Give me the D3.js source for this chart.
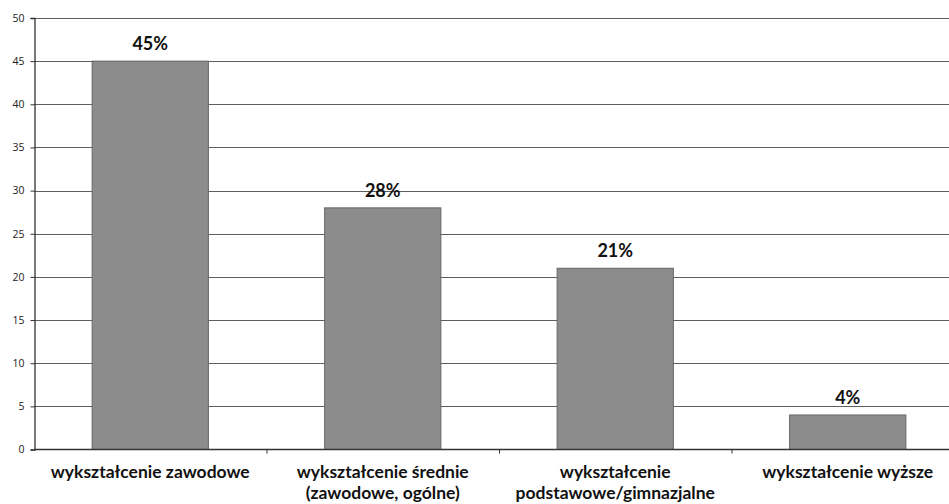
<!DOCTYPE html>
<html>
<head>
<meta charset="utf-8">
<script src="https://cdn.jsdelivr.net/npm/d3@7.9.0/dist/d3.min.js"></script>
<style>
  html, body { margin: 0; padding: 0; background: #fff; }
  svg { display: block; }
</style>
</head>
<body>
<div id="chart"></div>
<script>
// chart values
const categories = [
  ['wykształcenie zawodowe'],
  ['wykształcenie średnie', '(zawodowe, ogólne)'],
  ['wykształcenie', 'podstawowe/gimnazjalne'],
  ['wykształcenie wyższe']
];
const values = [45, 28, 21, 4];
const valueLabels = ['45%', '28%', '21%', '4%'];
const yTicks = [0, 5, 10, 15, 20, 25, 30, 35, 40, 45, 50];

const width = 949;
const height = 504;
const margin = { top: 18, right: -15, bottom: 55, left: 34 };

const svg = d3.select('#chart')
  .append('svg')
  .attr('width', width)
  .attr('height', height);

const x = d3.scaleBand()
  .domain(d3.range(categories.length))
  .range([margin.left, width - margin.right])
  .paddingInner(0.5)
  .paddingOuter(0.25);

const y = d3.scaleLinear()
  .domain([0, 50])
  .range([height - margin.bottom + 0.5, margin.top]);

// gridlines
svg.append('g')
  .selectAll('line')
  .data(yTicks.filter(d => d > 0))
  .join('line')
    .attr('x1', margin.left)
    .attr('x2', width)
    .attr('y1', d => Math.round(y(d)) + 0.5)
    .attr('y2', d => Math.round(y(d)) + 0.5)
    .attr('stroke', '#5e5e5e')
    .attr('stroke-width', 1.2);

// bars
svg.append('g')
  .selectAll('rect')
  .data(values)
  .join('rect')
    .attr('x', (d, i) => x(i))
    .attr('y', d => y(d))
    .attr('width', x.bandwidth())
    .attr('height', d => y(0) - y(d))
    .attr('fill', '#8c8c8c')
    .attr('stroke', '#666')
    .attr('stroke-width', 1);

// value labels
svg.append('g')
  .selectAll('text')
  .data(values)
  .join('text')
    .attr('x', (d, i) => x(i) + x.bandwidth() / 2)
    .attr('y', d => y(d) - 11)
    .attr('text-anchor', 'middle')
    .attr('font-family', 'Lato, "Open Sans", sans-serif')
    .attr('font-weight', 'bold')
    .attr('font-size', 18)
    .attr('fill', '#111')
    .text((d, i) => valueLabels[i]);

// y axis
const yAxis = svg.append('g')
  .attr('transform', `translate(${margin.left + 0.5},0)`)
  .call(d3.axisLeft(y).tickValues(yTicks).tickSize(4).tickPadding(6));
yAxis.select('.domain').attr('stroke', '#333').attr('stroke-width', 1.3);
yAxis.selectAll('.tick line').attr('stroke', '#333');
yAxis.selectAll('.tick text')
  .attr('font-family', '"Open Sans", sans-serif')
  .attr('font-size', 10.5)
  .attr('fill', '#222');

// x axis line with category boundary ticks
const x0 = y(0);
svg.append('line')
  .attr('x1', margin.left)
  .attr('x2', width)
  .attr('y1', x0)
  .attr('y2', x0)
  .attr('stroke', '#333')
  .attr('stroke-width', 1.3);

const step = x.step();
svg.append('g')
  .selectAll('line')
  .data(d3.range(1, categories.length))
  .join('line')
    .attr('x1', i => x(i) - step * 0.25 + 0.5)
    .attr('x2', i => x(i) - step * 0.25 + 0.5)
    .attr('y1', x0)
    .attr('y2', x0 + 4)
    .attr('stroke', '#333');

// category labels
const catG = svg.append('g')
  .selectAll('text')
  .data(categories)
  .join('text')
    .attr('x', (d, i) => x(i) + x.bandwidth() / 2)
    .attr('y', x0 + 28)
    .attr('text-anchor', 'middle')
    .attr('font-family', 'Lato, "Open Sans", sans-serif')
    .attr('font-weight', 'bold')
    .attr('font-size', 17.5)
    .attr('fill', '#111');

catG.selectAll('tspan')
  .data(d => d)
  .join('tspan')
    .attr('x', function () { return d3.select(this.parentNode).attr('x'); })
    .attr('dy', (d, i) => i === 0 ? 0 : 21)
    .text(d => d);
</script>
</body>
</html>
